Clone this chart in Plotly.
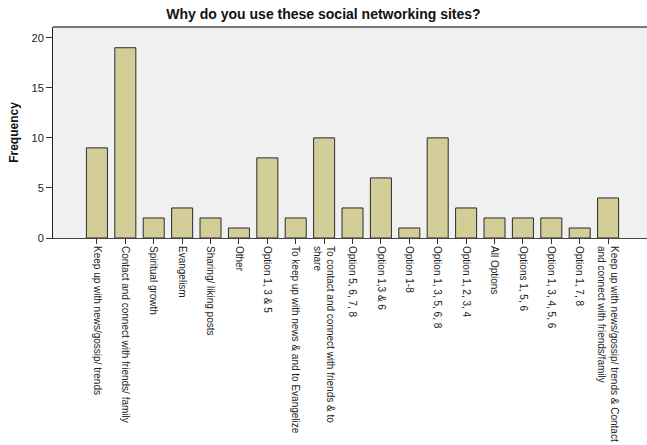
import plotly.graph_objects as go

categories = [
    "Keep up with news/gossip/ trends",
    "Contact and connect with friends/ family",
    "Spiritual growth",
    "Evangelism",
    "Sharing/ liking posts",
    "Other",
    "Option 1, 3 & 5",
    "To keep up with news & and to Evangelize",
    "To contact and connect with friends & to<br>share",
    "Option 5, 6, 7, 8",
    "Option 1,3 & 6",
    "Option 1-8",
    "Option 1, 3, 5, 6, 8",
    "Option 1, 2, 3, 4",
    "All Options",
    "Options 1, 5, 6",
    "Option 1, 3, 4, 5, 6",
    "Option 1, 7, 8",
    "Keep up with news/gossip/ trends & Contact<br>and connect with friends/family",
]
frequency = [9, 19, 2, 3, 2, 1, 8, 2, 10, 3, 6, 1, 10, 3, 2, 2, 2, 1, 4]
y_ticks = [0, 5, 10, 15, 20]

positions = list(range(len(categories)))

fig = go.Figure()
fig.add_trace(go.Bar(
    x=positions,
    y=frequency,
    width=0.74,
    marker=dict(color="#d3ce97", line=dict(color="#2b2b2b", width=1)),
    hoverinfo="y",
))

fig.update_layout(
    width=647,
    height=445,
    margin=dict(l=53, r=0, t=27, b=207),
    paper_bgcolor="white",
    plot_bgcolor="#f0f0f0",
    font=dict(family="Liberation Sans, Arial, sans-serif", size=10, color="#222"),
    title=dict(
        text="<b>Why do you use these social networking sites?</b>",
        x=0.5, xanchor="center", y=0.98, yanchor="top",
        font=dict(size=14, color="#111"),
        automargin=False,
    ),
    showlegend=False,
)

fig.update_xaxes(
    type="linear",
    range=[-1.547, 19.37],
    tickmode="array",
    tickvals=positions,
    ticktext=categories,
    tickangle=90,
    ticks="outside",
    ticklen=5,
    tickcolor="#333",
    showline=True,
    linecolor="#444",
    linewidth=1,
    showgrid=False,
    zeroline=False,
    automargin=False,
    tickfont=dict(size=10, color="#222"),
)

fig.update_yaxes(
    range=[0, 21.07],
    tickmode="array",
    tickvals=y_ticks,
    ticks="outside",
    ticklen=6,
    tickcolor="#333",
    showline=True,
    linecolor="#222",
    linewidth=1,
    showgrid=False,
    zeroline=False,
    automargin=False,
    tickfont=dict(size=11, color="#222"),
    title=dict(text="<b>Frequency</b>", font=dict(size=12, color="#111"), standoff=10),
)

fig.add_shape(type="line", xref="paper", yref="paper", x0=0, x1=1, y0=1, y1=1,
              line=dict(color="#777", width=2))

fig.write_html(
    "out.html",
    config={"displayModeBar": False},
    post_script="document.body.style.margin='0';document.body.style.overflow='hidden';",
)
